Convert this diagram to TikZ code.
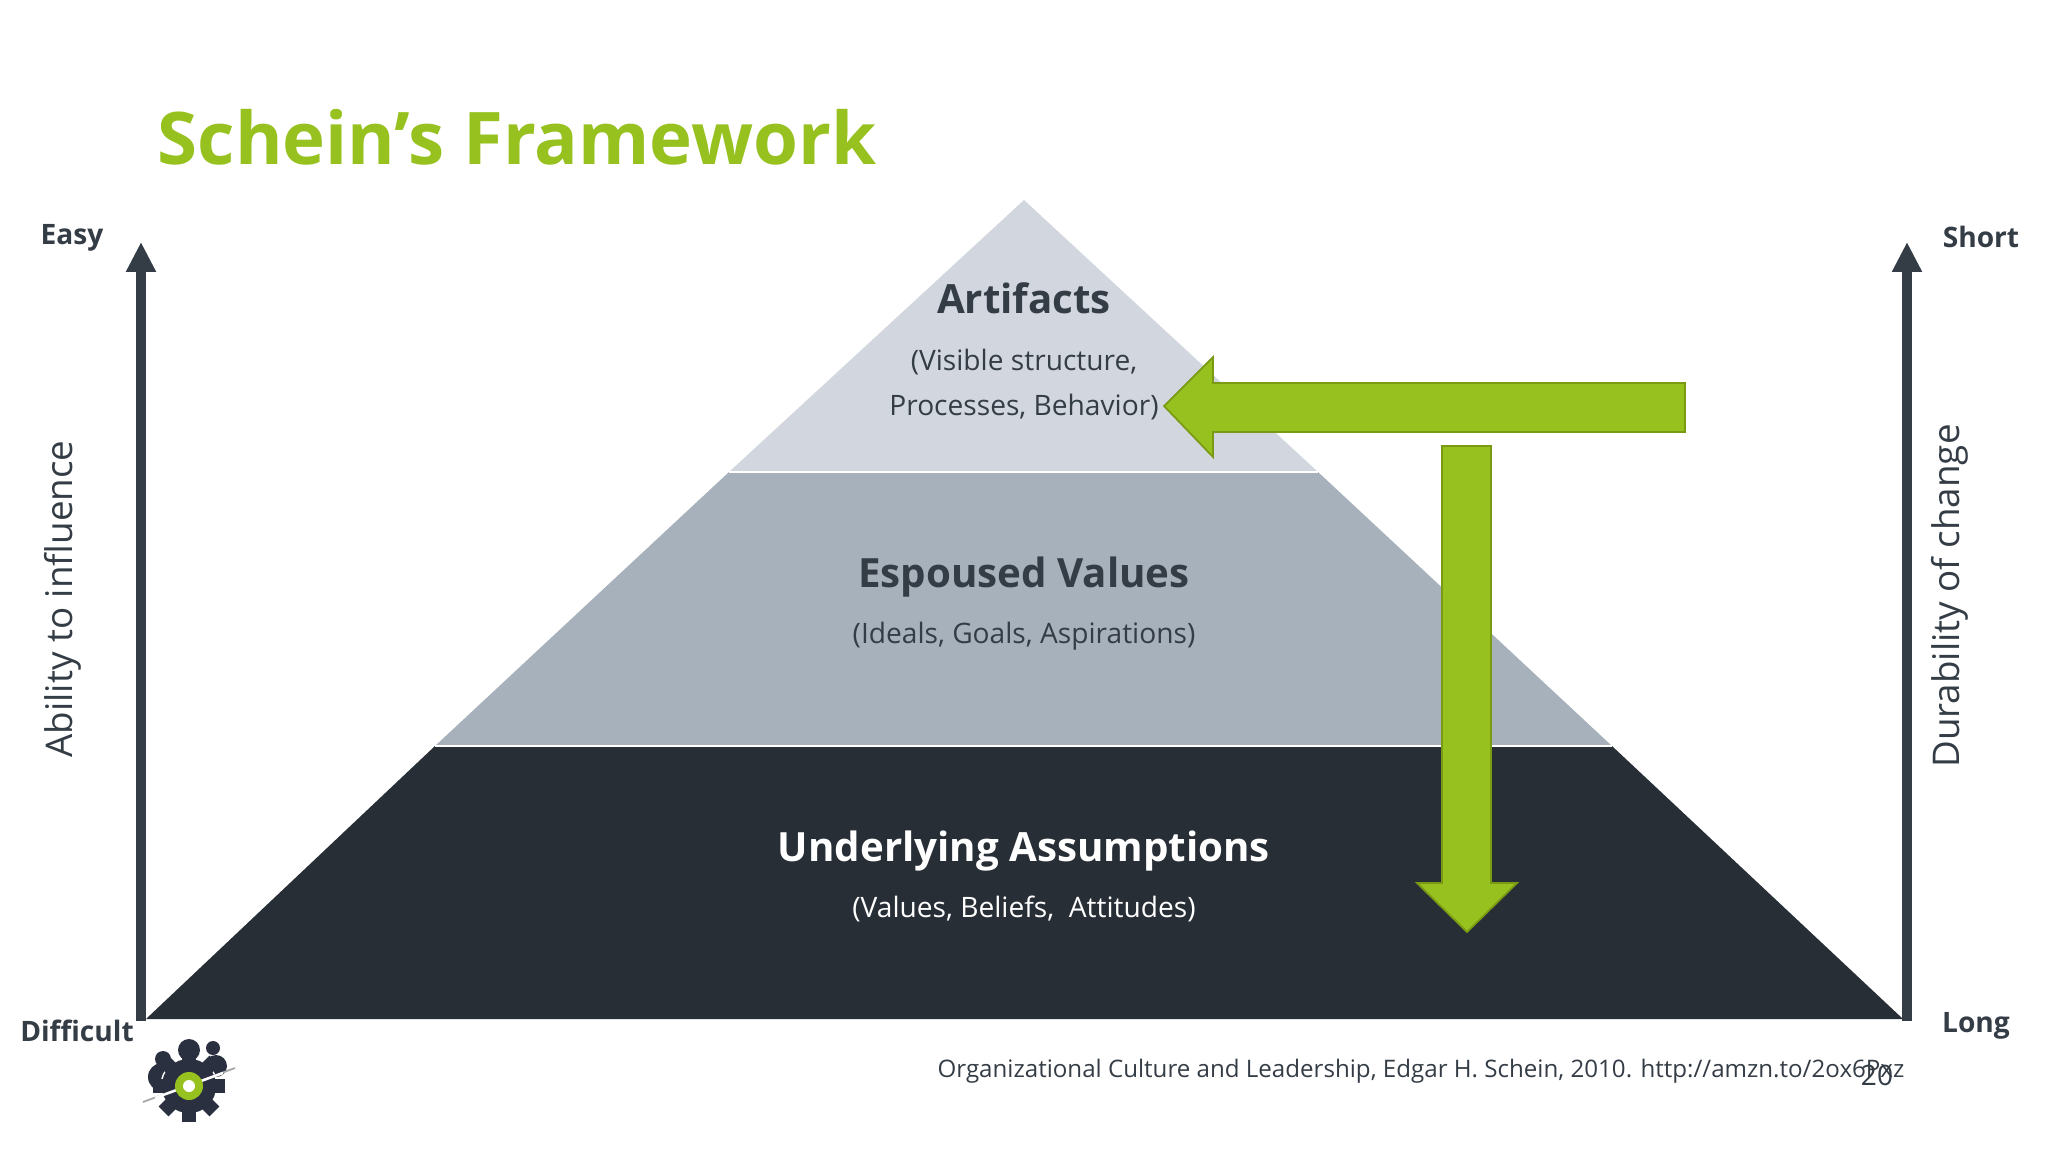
\documentclass[tikz,border=0pt]{standalone}
\usepackage{fontspec}
\setmainfont{Open Sans}
\usetikzlibrary{arrows.meta}
\definecolor{slate}{HTML}{343C45}
\definecolor{leaf}{HTML}{96C11F}
\definecolor{leafdark}{HTML}{7A9A14}
\definecolor{tierlight}{HTML}{D2D7DF}
\definecolor{tiermid}{HTML}{A7B1BB}
\definecolor{tierdark}{HTML}{282E36}
\definecolor{gearnavy}{HTML}{2B3040}
\tikzset{
  title/.style={font=\fontsize{20.65}{24}\selectfont\bfseries, text=leaf, anchor=west, inner sep=0pt},
  tierhead/.style={font=\fontsize{11.45}{13}\selectfont\bfseries, text=slate, inner sep=0pt},
  tiersub/.style={font=\fontsize{8}{10}\selectfont, text=slate, inner sep=0pt},
  axisend/.style={font=\fontsize{8}{10}\selectfont\bfseries, text=slate, inner sep=0pt},
  axisname/.style={font=\fontsize{10.45}{12}\selectfont, text=slate, inner sep=0pt, rotate=90},
  axisline/.style={draw=slate, line width=2.9pt, -{Triangle[length=8.5pt,width=8pt]}},
  blockarrow/.style={fill=leaf, draw=leafdark, line width=0.5pt},
  tierline/.style={draw=white, line width=0.5pt}
}
\begin{document}
\begin{tikzpicture}[x=0.01cm,y=-0.01cm]
  \useasboundingbox (0,0) rectangle (2048,1152);

  % axes
  \coordinate (leftlow) at (141,1021);
  \coordinate (lefttop) at (141,242);
  \coordinate (rightlow) at (1907,1021);
  \coordinate (righttop) at (1907,242);
  \draw[axisline] (leftlow) -- (lefttop);
  \draw[axisline] (rightlow) -- (righttop);

  % pyramid
  \coordinate (apex) at (1024,200);
  \coordinate (upperl) at (729,472);
  \coordinate (upperr) at (1318,472);
  \coordinate (lowerl) at (435,746);
  \coordinate (lowerr) at (1612,746);
  \fill[tierlight] (apex) -- (upperr) -- (upperl) -- cycle;
  \fill[tiermid] (upperl) -- (upperr) -- (lowerr) -- (lowerl) -- cycle;
  \fill[tierdark] (lowerl) -- (lowerr) -- (1903,1019) -- (146,1019) -- cycle;
  \draw[tierline] (upperl) -- (upperr);
  \draw[tierline] (lowerl) -- (lowerr);

  % block arrows
  \filldraw[blockarrow] (1685,383) -- (1213,383) -- (1213,357) -- (1164,406)
    -- (1213,457) -- (1213,432) -- (1685,432) -- cycle;
  \filldraw[blockarrow] (1442,446) -- (1491,446) -- (1491,883) -- (1517,883)
    -- (1467,932) -- (1417,883) -- (1442,883) -- cycle;

  % texts
  \node[title] (title) at (157,137) {Schein’s Framework};
  \node[tierhead] (artifacts) at (1024,298) {Artifacts};
  \node[tiersub] (visible) at (1024,362) {(Visible structure,};
  \node[tiersub] (processes) at (1024,407) {Processes, Behavior)};
  \node[tierhead] (espoused) at (1024,577) {Espoused Values};
  \node[tiersub] (ideals) at (1024,636) {(Ideals, Goals, Aspirations)};
  \node[tierhead,text=white] (underlying) at (1024,851) {Underlying Assumptions};
  \node[tiersub,text=white] (values) at (1024,909) {(Values, Beliefs,~~Attitudes)};

  \node[axisend] (easy) at (72,238) {Easy};
  \node[axisend] (difficult) at (77,1031) {Difficult};
  \node[axisend] (short) at (1981,237) {Short};
  \node[axisend] (long) at (1976,1026) {Long};
  \node[axisname] (ability) at (63,599) {Ability to influence};
  \node[axisname] (durability) at (1950,596) {Durability of change};

  \node[tiersub,font=\fontsize{6.86}{9}\selectfont,anchor=east] (source) at (1905,1071)
    {Organizational Culture and Leadership, Edgar H. Schein, 2010. http://amzn.to/2ox6Pxz};
  \node[tiersub] (pagenum) at (1877,1075) {20};

  % logo
  \begin{scope}[shift={(189,1086)}]
    \fill[gearnavy] (-26,-27) circle (8);
    \fill[gearnavy] (0,-36) circle (11);
    \fill[gearnavy] (24,-38) circle (7);
    \fill[gearnavy] (-27,-9) circle (14);
    \fill[gearnavy] (27,-20) circle (11);
    \fill[gearnavy,draw=white,line width=0.4pt] (0,0) circle (28);
    \foreach \a in {0,45,...,315}
      \fill[gearnavy,rotate=\a] (-7,24) rectangle (7,36);
    \draw[gray!70,line width=0.5pt] (-46,16) -- (46,-18);
    \draw[white,line width=0.7pt] (-34,12) -- (34,-13);
    \fill[leaf] (0,0) circle (14);
    \fill[white] (0,0) circle (6);
  \end{scope}
\end{tikzpicture}
\end{document}
